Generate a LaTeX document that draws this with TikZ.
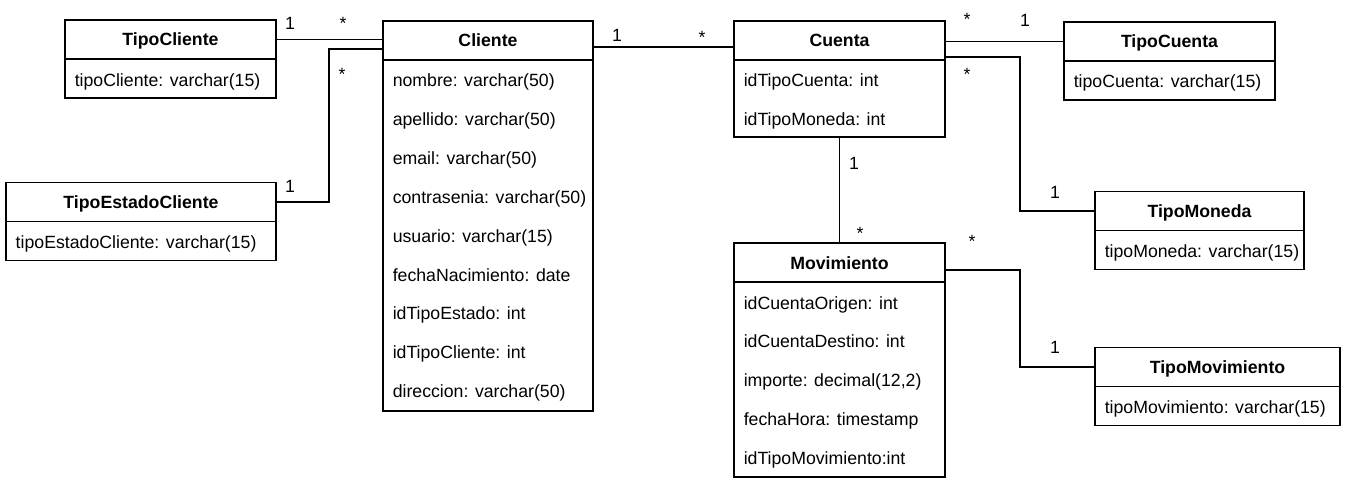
\documentclass[tikz,border=0pt]{standalone}
\usepackage{fontspec}
\setmainfont{Liberation Sans}
\usetikzlibrary{positioning,calc}

\begin{document}
\begin{tikzpicture}[x=1pt,y=-1pt,line width=1.5pt]
    \tikzstyle{class head}=[draw,rectangle,outer sep=0,inner sep=0,minimum height=39pt,font=\fontsize{17.7}{21}\selectfont\bfseries,text height=13pt,text depth=0pt]
    \tikzstyle{class body}=[draw,rectangle,outer sep=0,inner sep=0]
    \tikzstyle{attr}=[anchor=west,inner sep=0,font=\fontsize{17.7}{21}\selectfont,text height=13pt,text depth=0pt]
    \tikzstyle{mult}=[inner sep=0,font=\fontsize{17.7}{21}\selectfont]
    \useasboundingbox (0,0) rectangle (1347,487);

    % Cliente side
    \node[class head,minimum width=211pt](tipocliente) at (170.5,39.5){TipoCliente};
    \node[class body,minimum width=211pt,minimum height=39pt,below=0pt of tipocliente](tipocliente-b){};
    \node[attr](tipocliente-a0) at ($(tipocliente-b.north west)+(9,20.5)$){tipoCliente: varchar(15)};

    \node[class head,minimum width=270pt](tipoestado) at (141,202){TipoEstadoCliente};
    \node[class body,minimum width=270pt,minimum height=39pt,below=0pt of tipoestado](tipoestado-b){};
    \node[attr](tipoestado-a0) at ($(tipoestado-b.north west)+(9,20.5)$){tipoEstadoCliente: varchar(15)};

    \node[class head,minimum width=210pt](cliente) at (488,40.5){Cliente};
    \node[class body,minimum width=210pt,minimum height=351pt,below=0pt of cliente](cliente-b){};
    \foreach \a [count=\i from 0] in {nombre: varchar(50),apellido: varchar(50),email: varchar(50),
        contrasenia: varchar(50),usuario: varchar(15),fechaNacimiento: date,idTipoEstado: int,
        idTipoCliente: int,direccion: varchar(50)}
        \node[attr](cliente-a\i) at ($(cliente-b.north west)+(9,20.5+38.8*\i)$){\a};

    % Cuenta side
    \node[class head,minimum width=211pt](cuenta) at (839.5,40.5){Cuenta};
    \node[class body,minimum width=211pt,minimum height=77pt,below=0pt of cuenta](cuenta-b){};
    \foreach \a [count=\i from 0] in {idTipoCuenta: int,idTipoMoneda: int}
        \node[attr](cuenta-a\i) at ($(cuenta-b.north west)+(9,20.5+38.5*\i)$){\a};

    \node[class head,minimum width=211pt](movimiento) at (839.5,262.5){Movimiento};
    \node[class body,minimum width=211pt,minimum height=195pt,below=0pt of movimiento](movimiento-b){};
    \foreach \a [count=\i from 0] in {idCuentaOrigen: int,idCuentaDestino: int,{importe: decimal(12,2)},
        fechaHora: timestamp,idTipoMovimiento:int}
        \node[attr](movimiento-a\i) at ($(movimiento-b.north west)+(9,20.5+38.8*\i)$){\a};

    \node[class head,minimum width=211pt](tipocuenta) at (1169.5,41.5){TipoCuenta};
    \node[class body,minimum width=211pt,minimum height=39pt,below=0pt of tipocuenta](tipocuenta-b){};
    \node[attr](tipocuenta-a0) at ($(tipocuenta-b.north west)+(9,20.5)$){tipoCuenta: varchar(15)};

    \node[class head,minimum width=209pt](tipomoneda) at (1199.5,211){TipoMoneda};
    \node[class body,minimum width=209pt,minimum height=39pt,below=0pt of tipomoneda](tipomoneda-b){};
    \node[attr](tipomoneda-a0) at ($(tipomoneda-b.north west)+(9,20.5)$){tipoMoneda: varchar(15)};

    \node[class head,minimum width=245pt](tipomovimiento) at (1217.5,367){TipoMovimiento};
    \node[class body,minimum width=245pt,minimum height=39pt,below=0pt of tipomovimiento](tipomovimiento-b){};
    \node[attr](tipomovimiento-a0) at ($(tipomovimiento-b.north west)+(9,20.5)$){tipoMovimiento: varchar(15)};

    % connectors
    \draw (tipocliente.east) -- (tipocliente.east -| cliente.west);
    \coordinate (tec-bend) at (329,49);
    \draw (tipoestado.east) -| (tec-bend) -- (tec-bend -| cliente.west);
    \draw ([yshift=-6.5pt]cliente.east) -- ([yshift=-6.5pt]cliente.east -| cuenta.west);
    \draw (tipocuenta.west -| cuenta.east) -- (tipocuenta.west);
    \coordinate (cm-bend) at (1020,130);
    \draw ([yshift=3pt]cuenta.south east) -| (cm-bend) |- (tipomoneda.west);
    \draw (cuenta-b.south) -- (movimiento.north);
    \coordinate (mt-bend) at (1020,320);
    \draw ([yshift=-7.5pt]movimiento.east) -| (mt-bend) |- (tipomovimiento.west);

    % multiplicities
    \node[mult](m-tc-1) at (290,23){1};
    \node[mult](m-tc-n) at (343,23){*};
    \node[mult](m-te-n) at (342,74){*};
    \node[mult](m-te-1) at (290,186){1};
    \node[mult](m-cl-1) at (617,35){1};
    \node[mult](m-cl-n) at (702,37){*};
    \node[mult](m-ct-n) at (967,19){*};
    \node[mult](m-ct-1) at (1025,20){1};
    \node[mult](m-mo-n) at (967,74){*};
    \node[mult](m-mo-1) at (1055,192){1};
    \node[mult](m-cm-1) at (854,163){1};
    \node[mult](m-cm-n) at (860,233){*};
    \node[mult](m-tm-n) at (972,241){*};
    \node[mult](m-tm-1) at (1055,347){1};
\end{tikzpicture}
\end{document}
